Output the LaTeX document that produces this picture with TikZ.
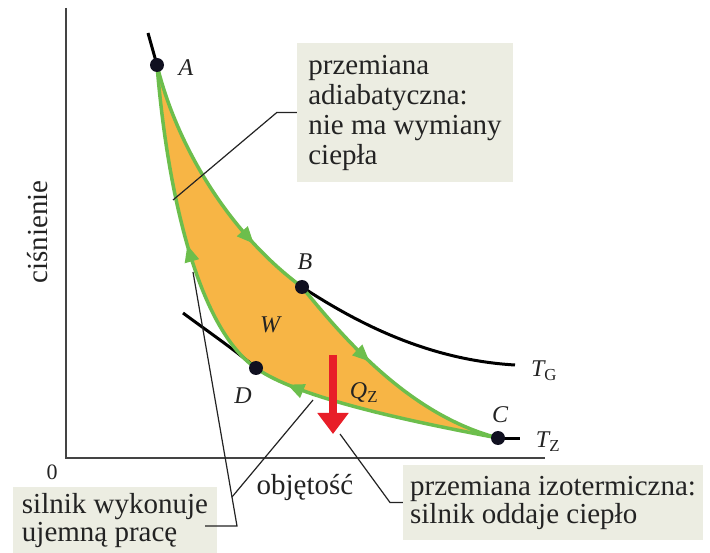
\documentclass[tikz,border=0pt]{standalone}
\usepackage{fontspec}
\setmainfont{Liberation Serif}
\usetikzlibrary{arrows.meta,decorations.markings}
\definecolor{fillor}{RGB}{247,181,69}
\definecolor{grn}{RGB}{108,190,76}
\definecolor{boxbg}{RGB}{236,237,226}
\definecolor{txt}{RGB}{35,35,35}
\definecolor{dotc}{RGB}{16,16,32}
\definecolor{redc}{RGB}{232,30,40}
\begin{document}
\begin{tikzpicture}[x=1pt,y=-1pt,
  infobox/.style={fill=boxbg, inner sep=0pt, align=left, text=txt},
  lbl/.style={font=\fontsize{24}{24}\selectfont\itshape, text=txt, inner sep=0pt},
  axl/.style={font=\fontsize{29}{30}\selectfont, text=txt, inner sep=0pt},
  leader/.style={draw=txt, line width=1.2pt},
  cyc/.style={draw=grn, line width=3.5pt},
  iso/.style={draw=black, line width=3pt},
  axisline/.style={draw=txt!85!white, line width=2pt},
  garrow/.style={postaction={decorate}, decoration={markings, mark=at position #1 with {\arrow{Triangle[length=17pt,width=14pt]}}}},
  dot/.style={circle, fill=dotc, minimum size=14pt, inner sep=0pt},
  redarr/.style={draw=redc, line width=8pt, -{Triangle[length=21pt,width=30pt]}}
]
\useasboundingbox (0,0) rectangle (710,553);
\fill[white] (0,0) rectangle (710,553);

% boxes
\node[infobox, minimum width=216pt, minimum height=139pt, font=\fontsize{29}{30}\selectfont] (adia) at (405,112.5) {przemiana\\adiabatyczna:\\nie ma wymiany\\ciepła};
\node[infobox, minimum width=300pt, minimum height=75pt, font=\fontsize{29}{28}\selectfont] (izo) at (553,502.5) {przemiana izotermiczna:\\silnik oddaje ciepło};
\node[infobox, minimum width=204pt, minimum height=68pt, font=\fontsize{29}{28}\selectfont] (siln) at (115,521) {silnik wykonuje\\ujemną pracę};

% axes
\coordinate (Ytop) at (66,8);
\coordinate (O) at (66,458);
\coordinate (Xend) at (545,458);
\draw[axisline] (Ytop) -- (O) -- (Xend);
\node[axl, rotate=90] (ylab) at (38,232) {ciśnienie};
\node[axl] (xlab) at (305,488) {objętość};
\node[font=\fontsize{22}{22}\selectfont, text=txt, inner sep=0pt] (zero) at (52,472) {0};

% cycle points
\coordinate (A) at (157,65);
\coordinate (B) at (302,287);
\coordinate (C) at (498,438);
\coordinate (D) at (256,368);
\coordinate (A0) at (148,33);
\coordinate (TG) at (515,365);
\coordinate (TZ) at (520,438);
\coordinate (D0) at (183,313);

\fill[fillor] (A) .. controls (175,140) and (225,230) .. (B)
  .. controls (345,340) and (410,415) .. (C)
  .. controls (430,425) and (300,400) .. (D)
  .. controls (200,330) and (168,200) .. (A) -- cycle;

% isotherms (black)
\draw[iso] (B) .. controls (360,325) and (430,360) .. (TG);
\draw[iso] (D0) .. controls (210,333) and (235,350) .. (D);
\draw[iso] (A0) -- (A);
\draw[iso] (C) -- (TZ);

% cycle (green)
\draw[cyc, garrow=0.76] (A) .. controls (175,140) and (225,230) .. (B);
\draw[cyc, garrow=0.40] (B) .. controls (345,340) and (410,415) .. (C);
\draw[cyc, garrow=0.86] (C) .. controls (430,425) and (300,400) .. (D);
\draw[cyc, garrow=0.44] (D) .. controls (200,330) and (168,200) .. (A);

% red arrow
\coordinate (q1) at (333,355);
\coordinate (q2) at (333,434);
\draw[redarr] (q1) -- (q2);

% leaders
\coordinate (pa) at (173,200);
\draw[leader] (adia.west) -- ++(-20,0) -- (pa);
\coordinate (ps1) at (193,272);
\coordinate (pj) at (237,526);
\coordinate (pe) at (205,526);
\draw[leader] (ps1) -- (pj) -- (pe);
\coordinate (ps2) at (313,400);
\coordinate (pk) at (232,497);
\draw[leader] (ps2) -- (pk);
\coordinate (pq) at (340,434);
\coordinate (pqc) at (390,502.5);
\draw[leader] (pq) -- (pqc) -- (izo.west);

% dots
\node[dot] (dA) at (A) {};
\node[dot] (dB) at (B) {};
\node[dot] (dC) at (C) {};
\node[dot] (dD) at (D) {};

% labels
\node[lbl] (lA) at (186,68) {A};
\node[lbl] (lB) at (305,262) {B};
\node[lbl] (lC) at (500,415) {C};
\node[lbl] (lD) at (243,396) {D};
\node[lbl] (lW) at (270,325) {W};
\node[lbl] (lQ) at (364,393) {Q\textsubscript{\upshape Z}};
\node[lbl] (lTG) at (544,371) {T\textsubscript{\upshape G}};
\node[lbl] (lTZ) at (548,442) {T\textsubscript{\upshape Z}};
\end{tikzpicture}
\end{document}
